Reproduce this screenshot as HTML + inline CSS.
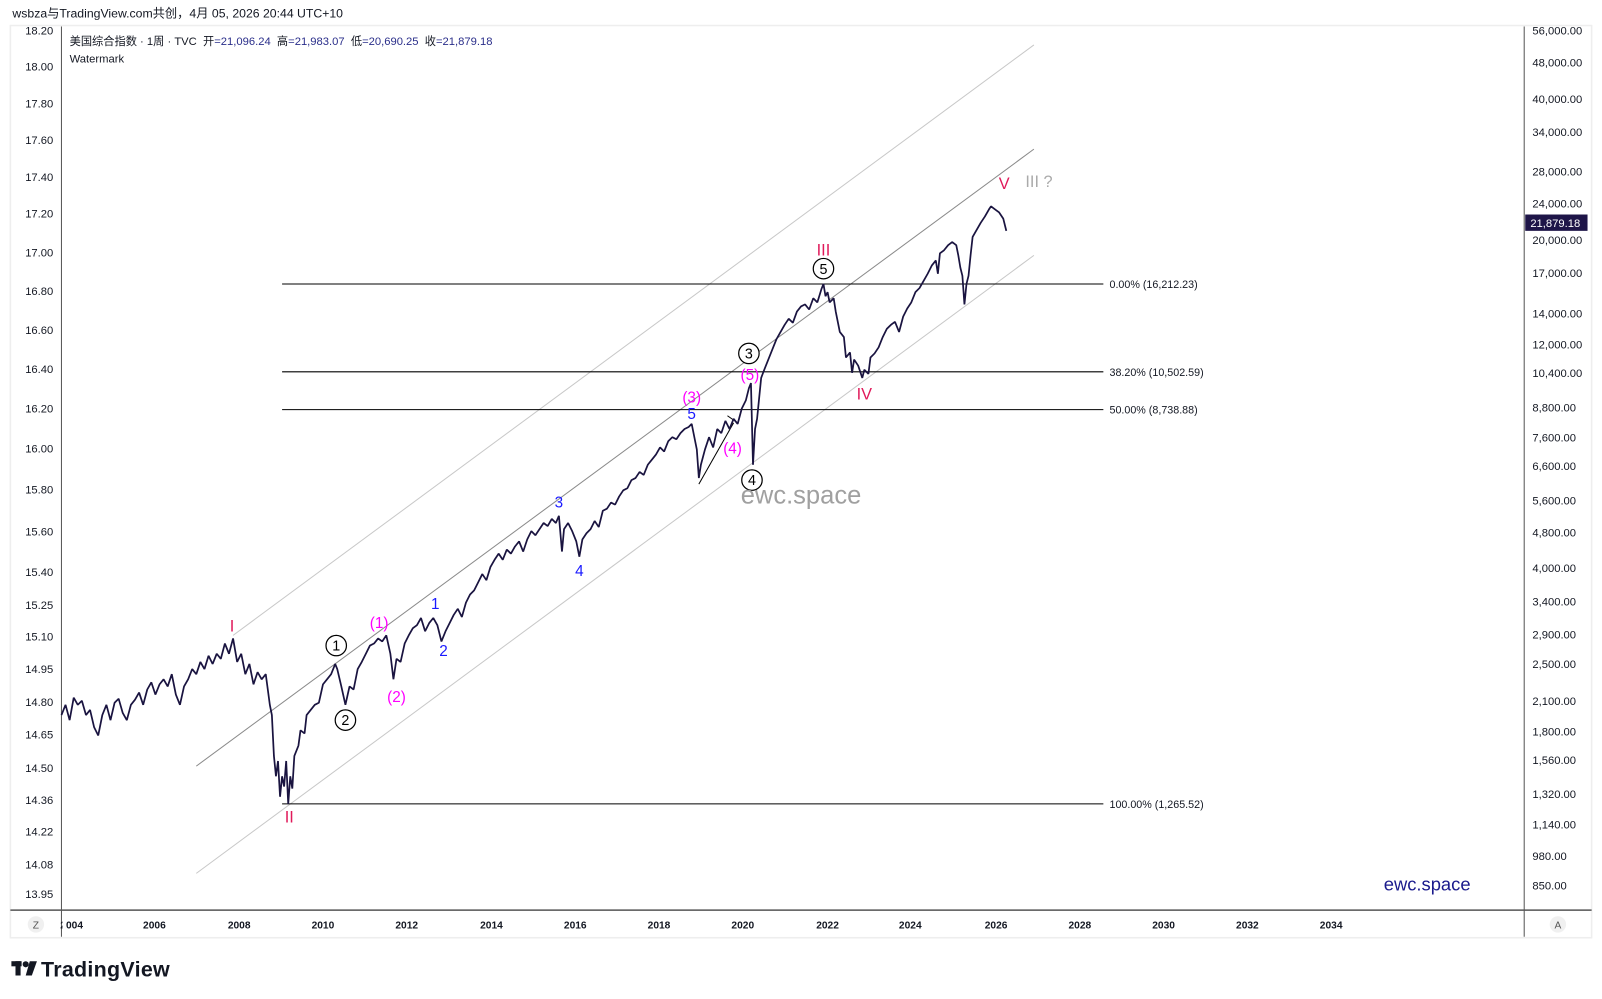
<!DOCTYPE html>
<html><head><meta charset="utf-8"><style>
html,body{margin:0;padding:0;background:#fff;width:1602px;height:999px;overflow:hidden}
svg{display:block}
text{font-family:"Liberation Sans","Noto Sans CJK SC",sans-serif}
</style></head><body>
<svg width="1602" height="999" viewBox="0 0 1568 978" xmlns="http://www.w3.org/2000/svg">
<rect width="1568" height="978" fill="#fff"/>
<text x="12" y="17" font-size="12" fill="#131722">wsbza与TradingView.com共创，4月 05, 2026 20:44 UTC+10</text>
<rect x="10" y="25" width="1548" height="893" fill="none" stroke="#eeeeee" stroke-width="1.5"/>
<line x1="60" y1="26" x2="60" y2="917" stroke="#555" stroke-width="1"/>
<line x1="1492" y1="26" x2="1492" y2="917" stroke="#555" stroke-width="1"/>
<line x1="10" y1="891" x2="1558" y2="891" stroke="#555" stroke-width="1.5"/>
<text x="68" y="44" font-size="11" fill="#131722">美国综合指数 · 1周 · TVC &#160;开<tspan fill="#2a2e8a">=21,096.24</tspan> &#160;高<tspan fill="#2a2e8a">=21,983.07</tspan> &#160;低<tspan fill="#2a2e8a">=20,690.25</tspan> &#160;收<tspan fill="#2a2e8a">=21,879.18</tspan></text>
<text x="68" y="61" font-size="11" fill="#131722">Watermark</text>
<g font-size="11" fill="#131722" text-anchor="end">
<text x="52" y="34">18.20</text><text x="52" y="69">18.00</text><text x="52" y="105">17.80</text><text x="52" y="141">17.60</text><text x="52" y="177">17.40</text><text x="52" y="213">17.20</text><text x="52" y="251">17.00</text><text x="52" y="289">16.80</text><text x="52" y="327">16.60</text><text x="52" y="365">16.40</text><text x="52" y="404">16.20</text><text x="52" y="443">16.00</text><text x="52" y="483">15.80</text><text x="52" y="524">15.60</text><text x="52" y="564">15.40</text><text x="52" y="596">15.25</text><text x="52" y="627">15.10</text><text x="52" y="659">14.95</text><text x="52" y="691">14.80</text><text x="52" y="723">14.65</text><text x="52" y="756">14.50</text><text x="52" y="787">14.36</text><text x="52" y="818">14.22</text><text x="52" y="850">14.08</text><text x="52" y="879">13.95</text>
</g>
<g font-size="11" fill="#131722">
<text x="1500" y="34">56,000.00</text><text x="1500" y="65">48,000.00</text><text x="1500" y="101">40,000.00</text><text x="1500" y="133">34,000.00</text><text x="1500" y="172">28,000.00</text><text x="1500" y="203">24,000.00</text><text x="1500" y="239">20,000.00</text><text x="1500" y="271">17,000.00</text><text x="1500" y="311">14,000.00</text><text x="1500" y="341">12,000.00</text><text x="1500" y="369">10,400.00</text><text x="1500" y="403">8,800.00</text><text x="1500" y="432">7,600.00</text><text x="1500" y="460">6,600.00</text><text x="1500" y="494">5,600.00</text><text x="1500" y="525">4,800.00</text><text x="1500" y="560">4,000.00</text><text x="1500" y="593">3,400.00</text><text x="1500" y="625">2,900.00</text><text x="1500" y="654">2,500.00</text><text x="1500" y="690">2,100.00</text><text x="1500" y="720">1,800.00</text><text x="1500" y="748">1,560.00</text><text x="1500" y="781">1,320.00</text><text x="1500" y="811">1,140.00</text><text x="1500" y="842">980.00</text><text x="1500" y="871">850.00</text>
</g>
<rect x="1493" y="210" width="61" height="16" fill="#1e1548"/>
<text x="1498" y="222" font-size="11" fill="#fff">21,879.18</text>
<g font-size="10" font-weight="bold" fill="#131722" text-anchor="middle">
<text x="70" y="909">2004</text><text x="151" y="909">2006</text><text x="234" y="909">2008</text><text x="316" y="909">2010</text><text x="398" y="909">2012</text><text x="481" y="909">2014</text><text x="563" y="909">2016</text><text x="645" y="909">2018</text><text x="727" y="909">2020</text><text x="810" y="909">2022</text><text x="891" y="909">2024</text><text x="975" y="909">2026</text><text x="1057" y="909">2028</text><text x="1139" y="909">2030</text><text x="1221" y="909">2032</text><text x="1303" y="909">2034</text>
</g>
<rect x="61" y="892" width="3" height="24" fill="#fff"/>
<circle cx="35" cy="905" r="8" fill="#f0f0f0"/><text x="35" y="909" font-size="10" fill="#555" text-anchor="middle">Z</text>
<circle cx="1525" cy="905" r="8" fill="#f0f0f0"/><text x="1525" y="909" font-size="10" fill="#555" text-anchor="middle">A</text>
<line x1="228" y1="622" x2="1012" y2="44" stroke="#c8c8c8" stroke-width="1"/>
<line x1="192" y1="750" x2="1012" y2="146" stroke="#8a8a8a" stroke-width="1"/>
<line x1="192" y1="855" x2="1012" y2="250" stroke="#c8c8c8" stroke-width="1"/>
<g stroke="#000" stroke-width="1">
<line x1="276" y1="278" x2="1080" y2="278"/><line x1="276" y1="364" x2="1080" y2="364"/><line x1="276" y1="401" x2="1080" y2="401"/><line x1="276" y1="787" x2="1080" y2="787"/>
<line x1="684" y1="474" x2="718" y2="414"/><line x1="712" y1="407" x2="722" y2="414"/>
</g>
<g font-size="10.5" fill="#131722">
<text x="1086" y="282">0.00% (16,212.23)</text><text x="1086" y="368">38.20% (10,502.59)</text><text x="1086" y="405">50.00% (8,738.88)</text><text x="1086" y="791">100.00% (1,265.52)</text>
</g>
<polyline fill="none" stroke="#1a1440" stroke-width="1.7" stroke-linejoin="bevel" points="
60,700 64,690 68,705 72,683 76,690 80,686 84,700 88,695 92,712 96,720 100,700 104,690 108,705 112,688 116,684 120,698 124,705 128,690 132,685 136,678 140,690 144,675 148,668 152,680 156,670 160,665 164,672 168,660 172,680 176,690 180,672 184,665 188,655 192,660 196,648 200,655 204,642 208,650 212,640 216,645 220,630 224,640 228,625 232,648 236,640 240,660 244,650 248,670 252,658 256,665 260,660 264,690 266,700 268,740 270,760 272,745 274,780 276,760 278,770 280,745 282,787 284,760 286,772 288,740 292,730 294,715 298,718 300,700 304,695 308,690 312,688 316,670 320,665 324,660 328,650 330,655 334,672 338,690 342,672 346,675 350,655 354,648 358,640 362,632 366,630 370,625 374,628 378,622 382,640 385,665 388,645 392,648 396,630 400,622 404,615 408,612 412,605 416,618 420,610 424,605 428,612 432,628 436,618 440,610 444,602 448,596 452,604 456,590 460,582 464,578 468,570 472,562 476,568 480,555 484,548 488,542 492,548 496,538 500,542 504,535 508,530 512,540 516,528 520,520 524,524 528,518 532,512 536,515 540,508 544,512 547,505 550,540 552,518 556,512 560,520 564,530 567,545 570,528 574,522 578,518 582,510 586,516 590,500 594,498 598,492 602,494 606,486 610,480 614,478 618,470 622,468 626,462 630,465 634,455 638,450 642,445 646,438 650,442 654,432 658,428 662,430 666,424 670,420 674,418 677,415 680,430 682,440 684,468 686,455 690,440 694,428 698,438 702,420 706,424 710,412 714,420 718,410 722,415 726,400 730,392 733,380 735,375 737,455 739,420 741,410 743,390 745,370 748,362 752,352 756,342 760,332 764,325 768,318 772,312 776,316 780,305 784,300 788,298 792,303 796,292 800,296 804,283 806,278 808,290 810,286 812,296 816,292 818,305 822,325 826,330 828,350 832,345 834,365 836,352 840,358 844,370 846,362 850,366 852,350 856,346 860,340 864,330 868,322 872,318 876,315 880,325 884,310 888,302 892,296 896,286 900,282 904,275 908,268 912,260 916,255 918,268 920,248 924,245 928,240 932,237 936,240 938,250 940,262 942,270 944,298 946,278 948,270 950,250 952,232 956,225 960,218 964,212 968,205 970,202 974,205 978,208 982,214 985,226"/>
<g font-size="16" fill="#e0195a" text-anchor="middle">
<text x="227" y="618">I</text><text x="283" y="805">II</text><text x="806" y="250">III</text><text x="846" y="391">IV</text><text x="983" y="185">V</text>
</g>
<text x="1017" y="183" font-size="16" fill="#aaa" text-anchor="middle">III ?</text>
<g fill="#fff" stroke="#000" stroke-width="1.2">
<circle cx="329" cy="632" r="10"/><circle cx="338" cy="705" r="10"/><circle cx="733" cy="346" r="10"/><circle cx="736" cy="470" r="10"/><circle cx="806" cy="263" r="10"/>
</g>
<g font-size="14" fill="#000" text-anchor="middle">
<text x="329" y="637">1</text><text x="338" y="710">2</text><text x="733" y="351">3</text><text x="736" y="475">4</text><text x="806" y="268">5</text>
</g>
<g font-size="15" fill="#ff00ff" text-anchor="middle">
<text x="371" y="615">(1)</text><text x="388" y="687">(2)</text><text x="677" y="394">(3)</text><text x="717" y="444">(4)</text><text x="734" y="372">(5)</text>
</g>
<g font-size="15" fill="#1a1aff" text-anchor="middle">
<text x="426" y="596">1</text><text x="434" y="642">2</text><text x="547" y="497">3</text><text x="567" y="564">4</text><text x="677" y="410">5</text>
</g>
<text x="784" y="493" font-size="25" fill="#a0a0a0" text-anchor="middle">ewc.space</text>
<text x="1397" y="872" font-size="18" fill="#1a1a8c" text-anchor="middle">ewc.space</text>
<g fill="#131722">
<rect x="11" y="941" width="10" height="5"/><rect x="15" y="941" width="5" height="14"/>
<circle cx="25" cy="944" r="3"/><polygon points="29,941 36,941 31,955 25,955"/>
</g>
<text x="40" y="956" font-size="21" font-weight="bold" fill="#131722" textLength="126">TradingView</text>
</svg>
</body></html>
